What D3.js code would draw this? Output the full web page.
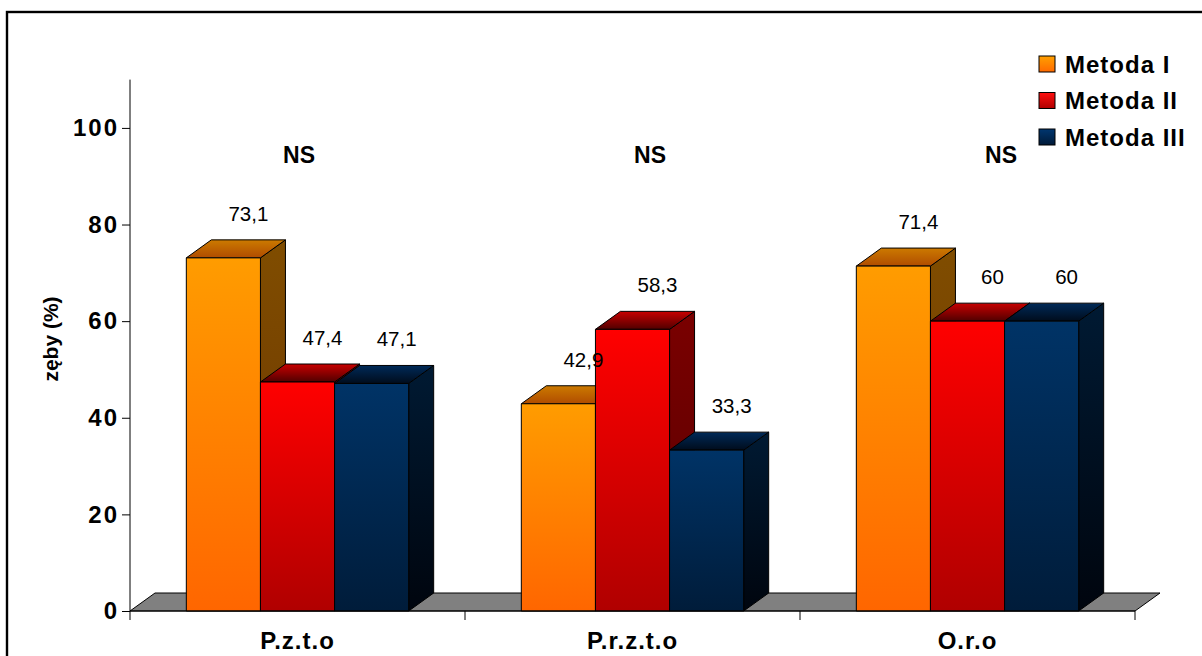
<!DOCTYPE html>
<html>
<head>
<meta charset="utf-8">
<script src="https://cdn.jsdelivr.net/npm/d3@7"></script>
<style>
  html, body { margin: 0; padding: 0; background: #fff; }
  svg { display: block; }
  text { font-family: Arial, "Liberation Sans", sans-serif; }
</style>
</head>
<body>
<svg id="chart" width="1202" height="656"></svg>
<script>
// Data
const categories = ["P.z.t.o", "P.r.z.t.o", "O.r.o"];
const seriesNames = ["Metoda I", "Metoda II", "Metoda III"];
const metodaI = [73.1, 42.9, 71.4];
const metodaII = [47.4, 58.3, 60];
const metodaIII = [47.1, 33.3, 60];
const yTickValues = [0, 20, 40, 60, 80, 100];
const significance = ["NS", "NS", "NS"];
const seriesValues = [metodaI, metodaII, metodaIII];

// Colour sets for each series: front gradient, side, top gradient, legend key
const palette = [
  { front: ["#FF9C00", "#FF6600"], side: ["#804D00", "#6A3300"], top: ["#CC7A00", "#B04C00"], key: ["#FFA000", "#FF6A00"] },
  { front: ["#FF0000", "#B00000"], side: ["#7A0000", "#560000"], top: ["#C80000", "#500000"], key: ["#FF1010", "#B00000"] },
  { front: ["#003366", "#001C3A"], side: ["#001A33", "#00050E"], top: ["#002A58", "#000C1C"], key: ["#003670", "#001A38"] }
];

const svg = d3.select("#chart");
const defs = svg.append("defs");

function vGrad(id, c0, c1) {
  const g = defs.append("linearGradient").attr("id", id)
    .attr("x1", 0).attr("y1", 0).attr("x2", 0).attr("y2", 1);
  g.append("stop").attr("offset", "0%").attr("stop-color", c0);
  g.append("stop").attr("offset", "100%").attr("stop-color", c1);
}
palette.forEach((p, i) => {
  vGrad("front" + i, p.front[0], p.front[1]);
  vGrad("side" + i, p.side[0], p.side[1]);
  vGrad("top" + i, p.top[0], p.top[1]);
  vGrad("key" + i, p.key[0], p.key[1]);
});

// Outer frame
svg.append("rect")
  .attr("x", 7).attr("y", 12).attr("width", 1400).attr("height", 1000)
  .attr("fill", "none").attr("stroke", "#000").attr("stroke-width", 2.4);

// Plot geometry
const plotLeft = 130, plotRight = 1135, plotBottom = 611, plotTop = 79.6;
const depthX = 25, depthY = 18;

const y = d3.scaleLinear().domain([0, 110]).range([plotBottom, plotTop]);
const x0 = d3.scaleBand().domain(categories).range([plotLeft, plotRight]).paddingInner(0).paddingOuter(0);
const x1 = d3.scaleBand().domain(seriesNames).range([0, x0.bandwidth()]).paddingInner(0).paddingOuter(0.76);
// the significance notes sit on their own, slightly wider spread
const xNote = d3.scalePoint().domain(categories).range([299, 1001]);

// Floor
svg.append("path")
  .attr("d", `M${plotLeft},${plotBottom} L${plotRight},${plotBottom} L${plotRight + depthX},${plotBottom - depthY} L${plotLeft + depthX},${plotBottom - depthY} Z`)
  .attr("fill", "#808080").attr("stroke", "#000").attr("stroke-width", 1);

// Bars
const bars = svg.append("g");
categories.forEach((cat, ci) => {
  seriesNames.forEach((s, si) => {
    const v = seriesValues[si][ci];
    const xa = x0(cat) + x1(s);
    const xb = xa + x1.bandwidth();
    const yt = y(v);
    const g = bars.append("g").attr("stroke", "#000").attr("stroke-width", 1).attr("stroke-linejoin", "round");
    // side face
    g.append("path")
      .attr("d", `M${xb},${plotBottom} L${xb},${yt} L${xb + depthX},${yt - depthY} L${xb + depthX},${plotBottom - depthY} Z`)
      .attr("fill", `url(#side${si})`);
    // top face
    g.append("path")
      .attr("d", `M${xa},${yt} L${xa + depthX},${yt - depthY} L${xb + depthX},${yt - depthY} L${xb},${yt} Z`)
      .attr("fill", `url(#top${si})`);
    // front face
    g.append("rect")
      .attr("x", xa).attr("y", yt).attr("width", xb - xa).attr("height", plotBottom - yt)
      .attr("fill", `url(#front${si})`);
  });
});

// Value labels
categories.forEach((cat, ci) => {
  seriesNames.forEach((s, si) => {
    const v = seriesValues[si][ci];
    const cx = x0(cat) + x1(s) + x1.bandwidth() / 2 + depthX;
    svg.append("text")
      .attr("x", cx).attr("y", y(v) - 37)
      .attr("text-anchor", "middle")
      .attr("font-size", 20.5).attr("fill", "#000")
      .text(String(v).replace(".", ","));
  });
});

// Significance notes
categories.forEach((cat, ci) => {
  svg.append("text")
    .attr("x", xNote(cat))
    .attr("y", 163)
    .attr("text-anchor", "middle")
    .attr("font-size", 23).attr("font-weight", "bold")
    .text(significance[ci]);
});

// Y axis
const yAxis = svg.append("g")
  .attr("transform", `translate(${plotLeft},0)`)
  .call(d3.axisLeft(y).tickValues(yTickValues).tickSize(8).tickPadding(3).tickFormat(d3.format("d")));
yAxis.select(".domain").attr("d", `M0,${plotTop}V${plotBottom + 9}`).attr("stroke", "#000");
yAxis.selectAll(".tick line").attr("stroke", "#000");
yAxis.selectAll(".tick text")
  .attr("font-size", 24).attr("font-weight", "bold").attr("fill", "#000")
  .attr("letter-spacing", 2)
  .attr("font-family", "Arial, 'Liberation Sans', sans-serif");

// X axis line and category separators
svg.append("line")
  .attr("x1", plotLeft).attr("x2", plotRight).attr("y1", plotBottom).attr("y2", plotBottom)
  .attr("stroke", "#000").attr("stroke-width", 1);
const bounds = categories.map(c => x0(c) + x0.bandwidth());
svg.selectAll(".xsep").data(bounds).enter().append("line")
  .attr("x1", d => d).attr("x2", d => d)
  .attr("y1", plotBottom).attr("y2", plotBottom + 9)
  .attr("stroke", "#000");

const xAxis = svg.append("g")
  .attr("transform", `translate(0,${plotBottom})`)
  .call(d3.axisBottom(x0).tickSize(0).tickPadding(21));
xAxis.select(".domain").remove();
xAxis.selectAll(".tick text")
  .attr("font-size", 24).attr("font-weight", "bold").attr("fill", "#000")
  .attr("letter-spacing", 1)
  .attr("font-family", "Arial, 'Liberation Sans', sans-serif");

// Y axis title
svg.append("text")
  .attr("transform", "translate(58,339) rotate(-90)")
  .attr("text-anchor", "middle")
  .attr("font-size", 21).attr("font-weight", "bold")
  .text("zęby (%)");

// Legend
const legend = svg.append("g").attr("transform", "translate(1039,56)");
seriesNames.forEach((s, i) => {
  const row = legend.append("g").attr("transform", `translate(0,${i * 36.5})`);
  row.append("rect").attr("width", 16).attr("height", 16)
    .attr("fill", `url(#key${i})`).attr("stroke", "#000").attr("stroke-width", 1);
  row.append("text").attr("x", 26).attr("y", 16.5)
    .attr("font-size", 24).attr("font-weight", "bold")
    .attr("letter-spacing", 1)
    .text(s);
});
</script>
</body>
</html>
